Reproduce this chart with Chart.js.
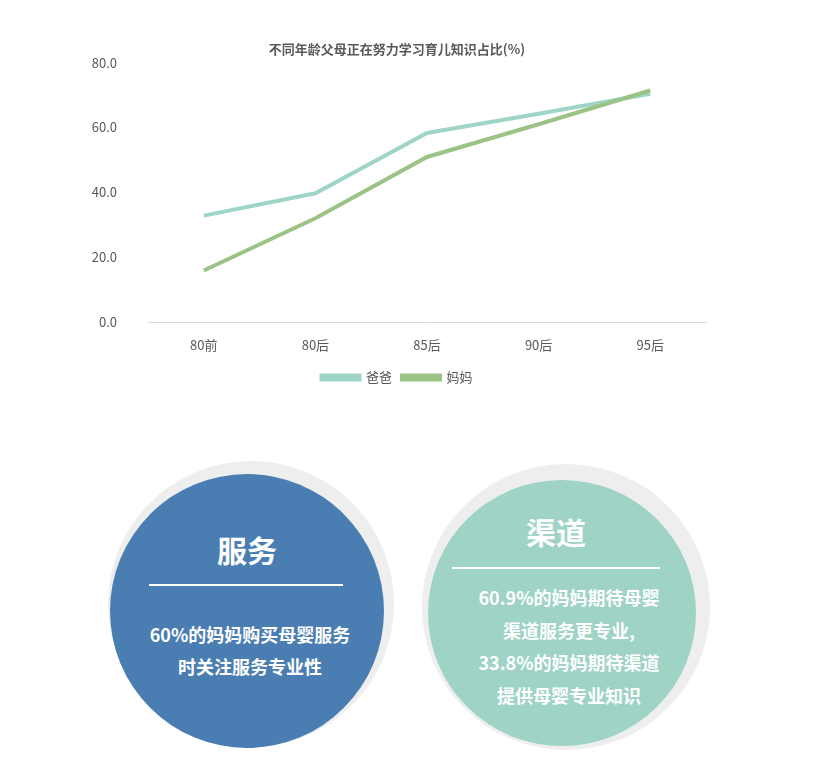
<!DOCTYPE html>
<html>
<head>
<meta charset="utf-8">
<script src="https://cdn.jsdelivr.net/npm/chart.js@4.4.1/dist/chart.umd.min.js"></script>
<style>
  html, body { margin: 0; padding: 0; background: #ffffff; }
  body { width: 819px; height: 763px; position: relative; overflow: hidden;
         font-family: "Noto Sans CJK SC", "Noto Sans", sans-serif; }
  #chartBox { position: absolute; left: 0; top: 0; width: 819px; height: 400px; }
  .ring { position: absolute; border-radius: 50%; background: #eeeeee; }
  .disc { position: absolute; border-radius: 50%; }
  .txt { position: absolute; color: #ffffff; font-weight: bold; text-align: center; white-space: nowrap; }
  .rule { position: absolute; height: 1.5px; background: #ffffff; }
</style>
</head>
<body>
<div id="chartBox"><canvas id="c"></canvas></div>

<!-- left infographic circle -->
<div class="ring" style="left:108px; top:461px; width:286px; height:286px;"></div>
<div class="disc" style="left:110px; top:474px; width:274px; height:274px; background:#4a7eb3;"></div>
<div class="txt" style="left:147px; top:529px; width:200px; font-size:30px; line-height:40px;">服务</div>
<div class="rule" style="left:149px; top:584px; width:194px;"></div>
<div class="txt" style="left:130px; top:618px; width:240px; font-size:18px; line-height:32px;">60%的妈妈购买母婴服务<br>时关注服务专业性</div>

<!-- right infographic circle -->
<div class="ring" style="left:422px; top:464px; width:288px; height:286px;"></div>
<div class="disc" style="left:428px; top:480px; width:268px; height:266px; background:#9ed3c6;"></div>
<div class="txt" style="left:456px; top:511px; width:200px; font-size:30px; line-height:40px;">渠道</div>
<div class="rule" style="left:452px; top:567px; width:208px;"></div>
<div class="txt" style="left:449px; top:581px; width:240px; font-size:18px; line-height:32.5px;">60.9%的妈妈期待母婴<br>渠道服务更专业,<br>33.8%的妈妈期待渠道<br>提供母婴专业知识</div>

<script>
const chartTitle = '不同年龄父母正在努力学习育儿知识占比(%)';
const categories = ['80前', '80后', '85后', '90后', '95后'];
const seriesNames = ['爸爸', '妈妈'];
const dadValues = [32.8, 39.7, 58.3, 64.2, 70.4];
const momValues = [15.9, 32.0, 50.9, 61.0, 71.4];
const yTicks = [0, 20, 40, 60, 80];

const CJK = '"Noto Sans CJK SC", "Noto Sans", sans-serif';

new Chart(document.getElementById('c'), {
  type: 'line',
  data: {
    labels: categories,
    datasets: [
      { label: seriesNames[0], data: dadValues, borderColor: '#9ed5c8', backgroundColor: '#9ed5c8',
        borderWidth: 4, pointRadius: 0, tension: 0, order: 1 },
      { label: seriesNames[1], data: momValues, borderColor: '#9cc386', backgroundColor: '#9cc386',
        borderWidth: 4, pointRadius: 0, tension: 0, order: 0 }
    ]
  },
  options: {
    responsive: true,
    maintainAspectRatio: false,
    animation: false,
    layout: { padding: { left: 88, right: 113, top: 0, bottom: 6 } },
    plugins: {
      title: { display: true, text: chartTitle, color: '#595959',
               font: { family: CJK, size: 13, weight: 'bold' }, padding: { top: 41, bottom: 6 } },
      legend: { position: 'bottom',
                labels: { boxWidth: 38, boxHeight: 4, color: '#595959', padding: 10,
                          font: { family: CJK, size: 13 },
                          sort: (a, b) => a.datasetIndex - b.datasetIndex } },
      tooltip: { enabled: false }
    },
    scales: {
      x: {
        offset: true,
        grid: { display: false, drawTicks: false, offset: true },
        border: { display: true, color: '#d9d9d9', width: 1 },
        ticks: { color: '#595959', padding: 15, font: { family: CJK, size: 13 } },
        afterFit: (s) => { s.height = 39; }
      },
      y: {
        min: 0, max: 80,
        grid: { display: false, drawTicks: false },
        border: { display: false },
        afterBuildTicks: (s) => { s.ticks = yTicks.map(v => ({ value: v })); },
        ticks: { color: '#595959', padding: 31, font: { family: CJK, size: 13 },
                 callback: (v) => Number(v).toFixed(1) },
        afterFit: (s) => { s.width = 60; }
      }
    }
  }
});
</script>
</body>
</html>
